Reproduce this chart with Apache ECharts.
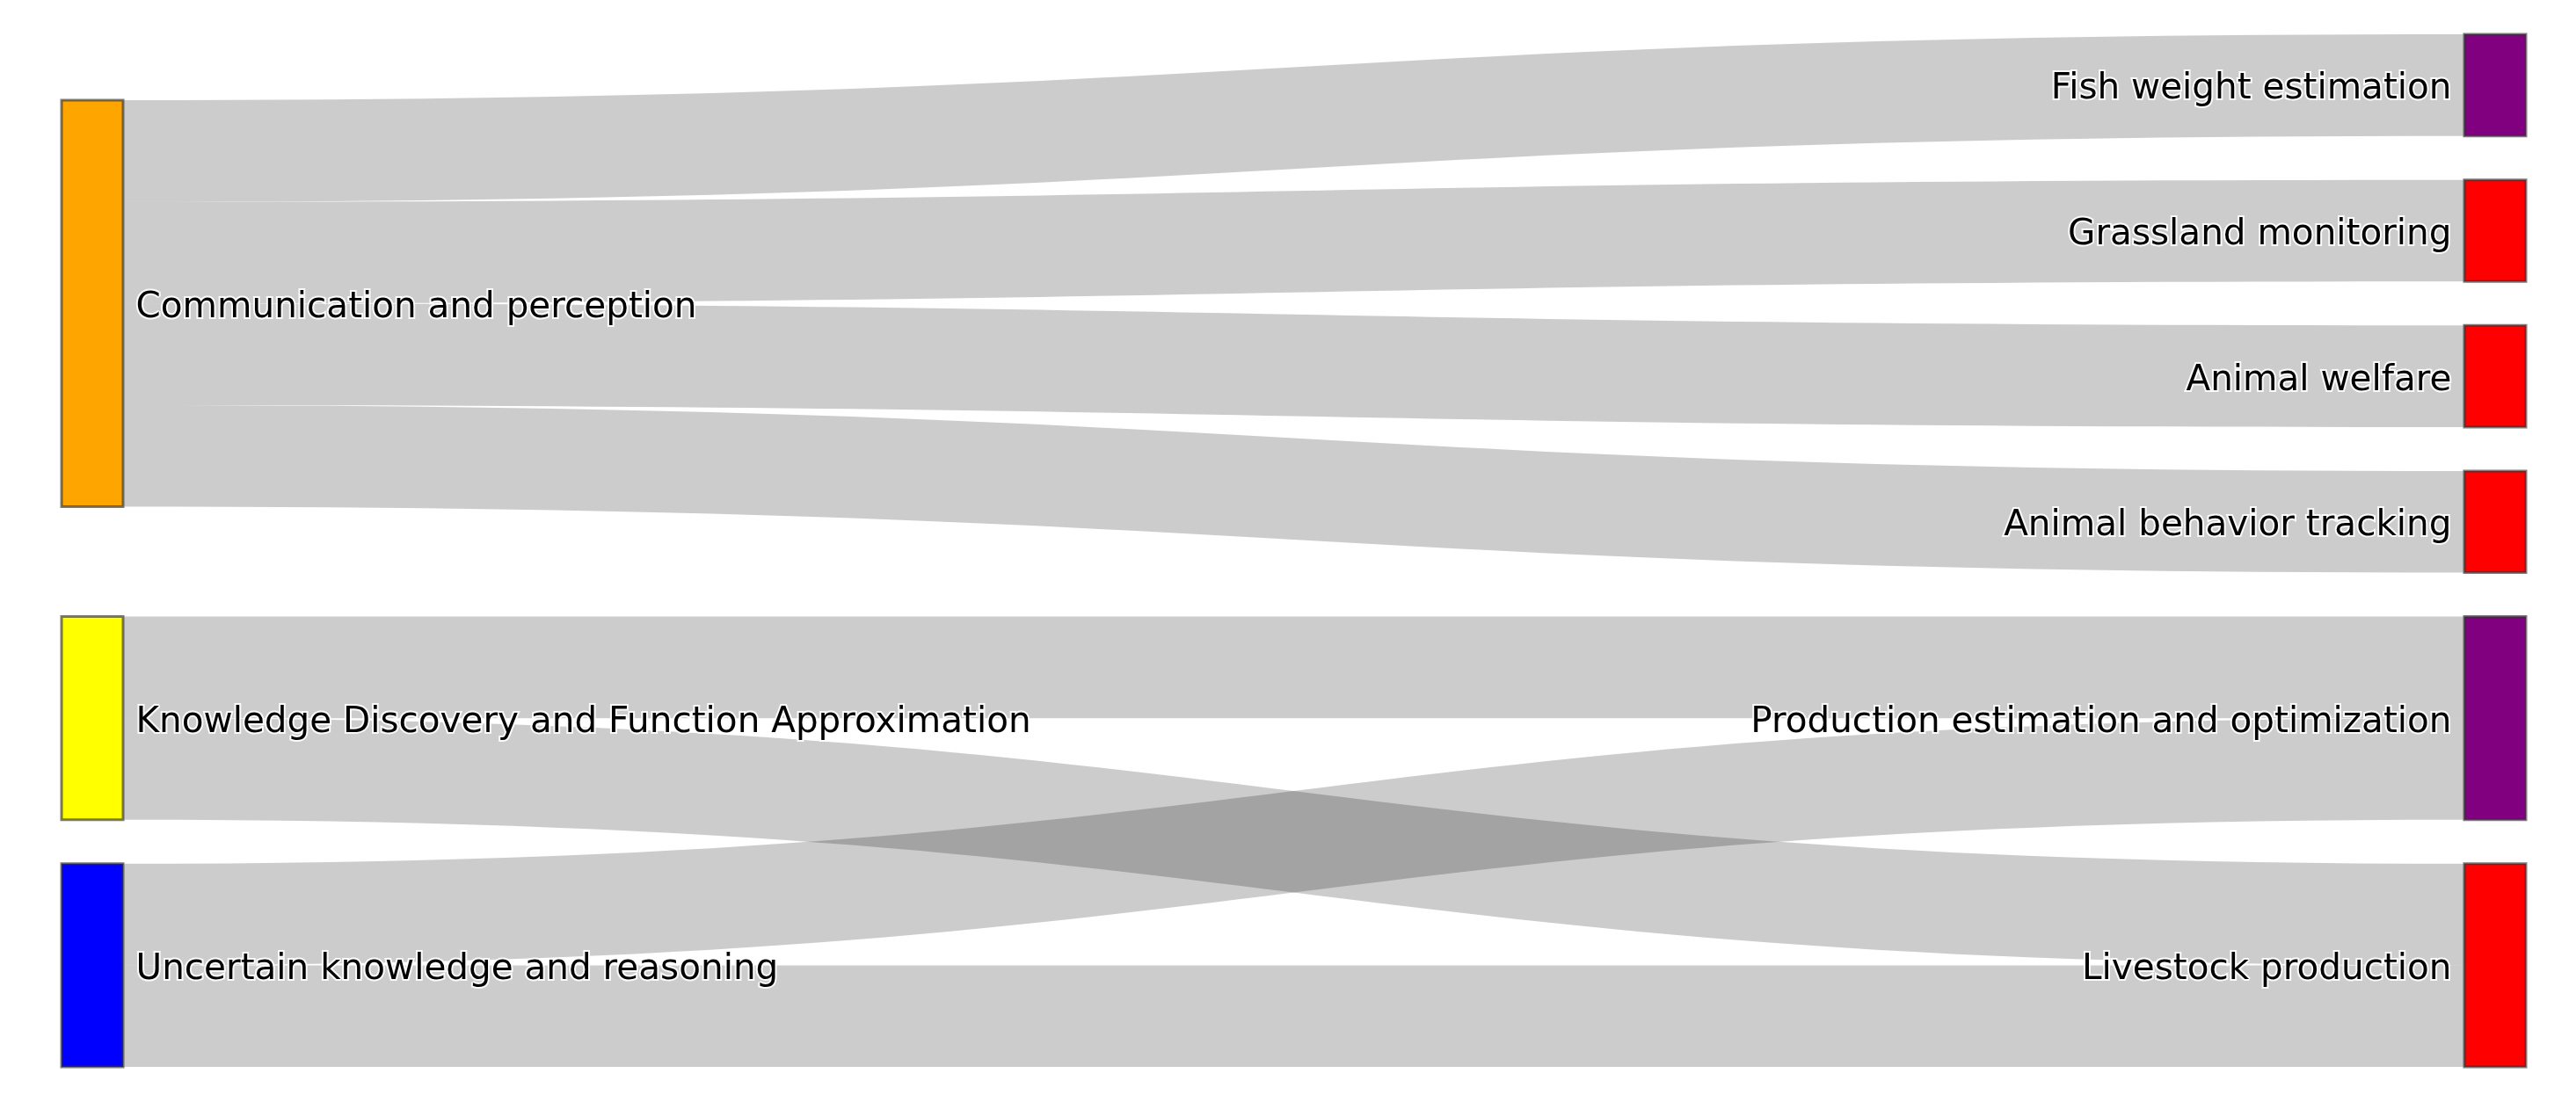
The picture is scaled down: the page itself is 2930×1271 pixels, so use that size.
<!DOCTYPE html>
<html lang="en">
<head>
	<meta charset="UTF-8">
	<title>Sankey</title>
	<script src="https://cdn.jsdelivr.net/npm/echarts@6/dist/echarts.min.js"></script>
	<style>
		html, body { margin: 0; padding: 0; width: 100%; height: 100%; background: #fff; }
		#chart { width: 2930px; height: 1271px; }
	</style>
</head>
<body>
	<div id="chart"></div>
<script>
	// nodes (left column first, then right column, top to bottom)
	var nodeNames = [
		'Communication and perception',
		'Knowledge Discovery and Function Approximation',
		'Uncertain knowledge and reasoning',
		'Fish weight estimation',
		'Grassland monitoring',
		'Animal welfare',
		'Animal behavior tracking',
		'Production estimation and optimization',
		'Livestock production'
	];
	var nodeColors = ['#FFA500', '#FFFF00', '#0000FF', '#800080', '#FF0000', '#FF0000', '#FF0000', '#800080', '#FF0000'];
	var rightColumn = [false, false, false, true, true, true, true, true, true];

	// links
	var linkSources = [0, 0, 0, 0, 1, 1, 2, 2];
	var linkTargets = [3, 4, 5, 6, 7, 8, 7, 8];
	var linkValues = [1, 1, 1, 1, 1, 1, 1, 1];

	var nodes = [];
	for (var i = 0; i < nodeNames.length; i++) {
		nodes.push({
			name: nodeNames[i],
			itemStyle: { color: nodeColors[i] },
			label: { position: rightColumn[i] ? 'left' : 'right' }
		});
	}
	var links = [];
	for (var j = 0; j < linkSources.length; j++) {
		links.push({
			source: nodeNames[linkSources[j]],
			target: nodeNames[linkTargets[j]],
			value: linkValues[j]
		});
	}

	var myChart = echarts.init(document.getElementById('chart'));
	myChart.setOption({
		backgroundColor: '#fff',
		animation: false,
		series: [{
			type: 'sankey',
			left: 70,
			top: 39,
			right: 57,
			bottom: 57,
			nodeWidth: 70,
			nodeGap: 50,
			layoutIterations: 64,
			draggable: false,
			data: nodes,
			links: links,
			itemStyle: {
				borderColor: 'rgba(50,50,50,0.65)',
				borderWidth: 3
			},
			lineStyle: {
				color: '#000',
				opacity: 0.2,
				curveness: 0.5
			},
			label: {
				fontFamily: 'DejaVu Sans',
				fontSize: 40.5,
				color: '#000',
				distance: 13,
				offset: [0, 5],
				textBorderColor: 'rgba(255,255,255,0.9)',
				textBorderWidth: 4
			},
			emphasis: { disabled: true }
		}]
	});
</script>
</body>
</html>
